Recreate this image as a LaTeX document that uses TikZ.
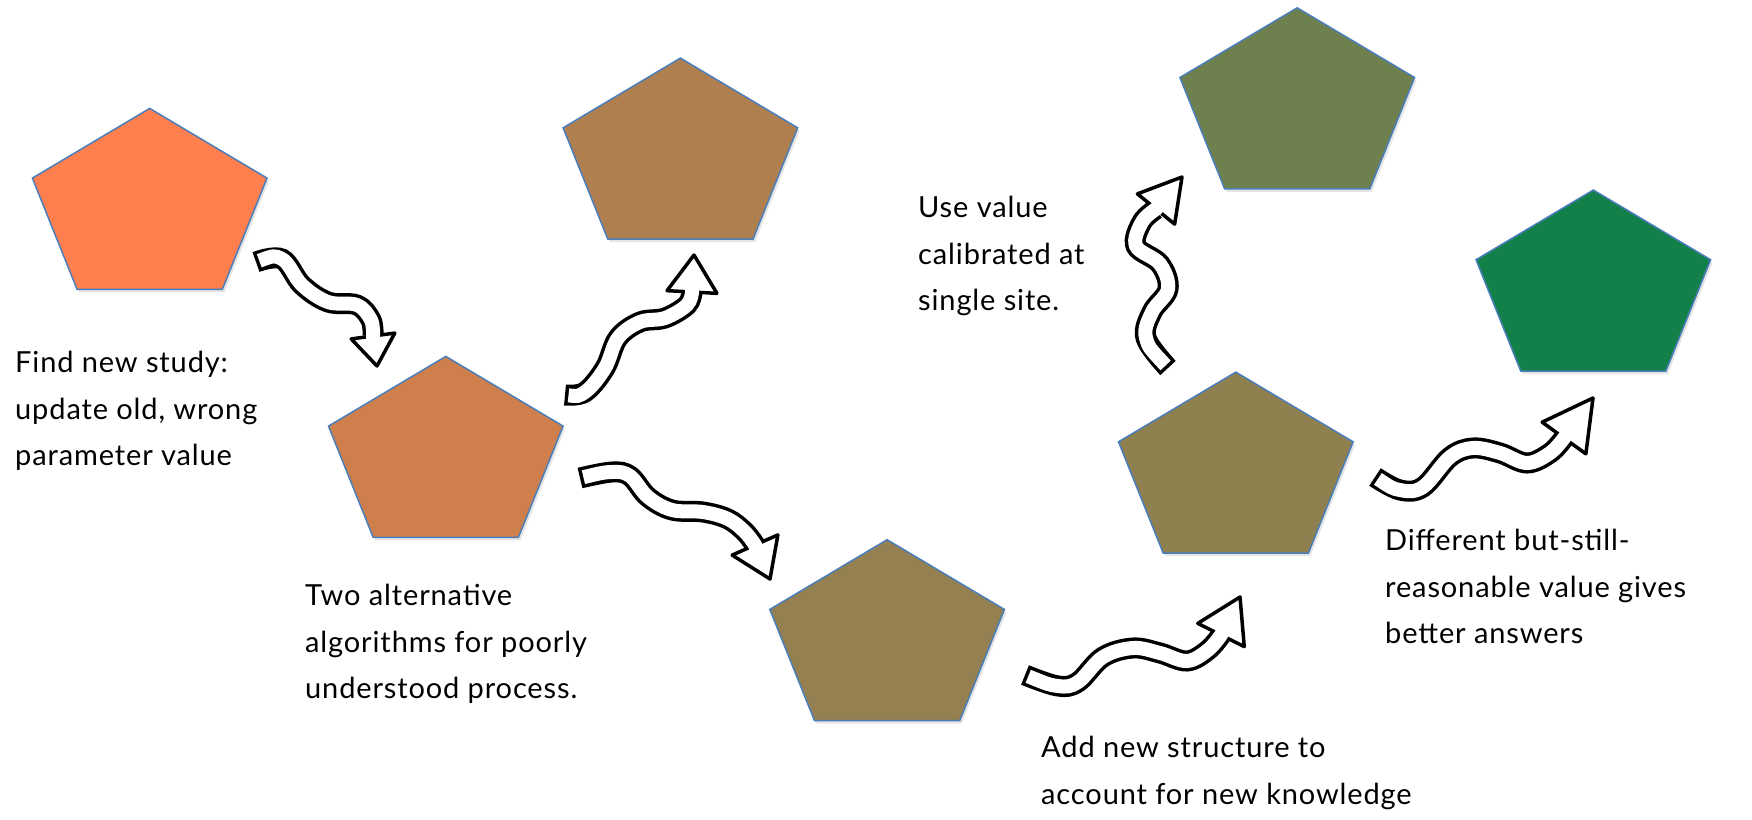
\documentclass[tikz,border=0pt]{standalone}
\usepackage{fontspec}
\setmainfont{Lato}[LetterSpace=3]
\usetikzlibrary{calc}

\definecolor{outlineblue}{RGB}{74,126,187}
\definecolor{stepA}{RGB}{255,127,79}
\definecolor{stepB}{RGB}{176,127,80}
\definecolor{stepC}{RGB}{207,127,75}
\definecolor{stepD}{RGB}{148,128,80}
\definecolor{stepE}{RGB}{111,128,79}
\definecolor{stepF}{RGB}{143,128,79}
\definecolor{stepG}{RGB}{19,128,74}

\tikzset{
  pentshape/.style={draw=outlineblue, line width=1.5pt, line join=miter},
  pentshadow/.style={fill=black, opacity=0.10},
  label/.style={anchor=north west, inner sep=0pt, align=left,
    font=\fontsize{29}{46.5}\selectfont},
  shaftouter/.style={line width=21pt, black},
  shaftinner/.style={line width=14pt, white},
  headshape/.style={fill=white, draw=black, line width=3.5pt, line join=round},
}

% pentagon with its apex at (#2,#3); coordinate #1 marks the apex
\newcommand{\pentagon}[4]{%
  \coordinate (#1) at (#2,#3);
  \fill[pentshadow] ($(#1)+(2,3)$) -- ++(117.3,69.7) -- ++(-44.7,111.3)
     -- ++(-145.2,0) -- ++(-44.7,-111.3) -- cycle;
  \filldraw[pentshape, fill=#4] (#1) -- ++(117.3,69.7) -- ++(-44.7,111.3)
     -- ++(-145.2,0) -- ++(-44.7,-111.3) -- cycle;
}

% hand-drawn style wavy block arrow:
% #1 shaft points (ending at the head base), #2 base, #3 tip, #4 head half-width
\newcommand{\wavyarrow}[4]{%
  \draw[shaftouter] plot[smooth, tension=0.6] coordinates {#1};
  \draw[headshape] (#3) -- ($(#2)!#4pt!90:(#3)$) -- ($(#2)!#4pt!-90:(#3)$) -- cycle;
  \draw[shaftinner, shorten <=3.5pt] plot[smooth, tension=0.6] coordinates {#1}
     -- ($(#2)!7pt!(#3)$);
}

\begin{document}
\begin{tikzpicture}[x=1pt, y=-1pt]
\useasboundingbox (0,0) rectangle (1752,819);

% the seven stages
\pentagon{p1}{149.7}{108.4}{stepA}
\pentagon{p2}{680.4}{58.1}{stepB}
\pentagon{p3}{445.8}{356.4}{stepC}
\pentagon{p4}{887.1}{539.7}{stepD}
\pentagon{p5}{1297.2}{7.8}{stepE}
\pentagon{p6}{1235.8}{372.1}{stepF}
\pentagon{p7}{1593.3}{190.0}{stepG}

% arrow head bases and tips
\coordinate (b1) at (373,336);  \coordinate (t1) at (377,366);
\coordinate (b2) at (692,292);  \coordinate (t2) at (694,255);
\coordinate (b3) at (755,545);  \coordinate (t3) at (770,579);
\coordinate (b4) at (1221,635); \coordinate (t4) at (1240,597);
\coordinate (b5) at (1156,209); \coordinate (t5) at (1182,177);
\coordinate (b6) at (1564,438); \coordinate (t6) at (1593,398);

\wavyarrow{(256,262) (282,259) (302,285) (328,302) (357,305) (371,320) (b1)}{b1}{t1}{22}
\wavyarrow{(565,395) (585,392) (605,368) (618,338) (640,322) (665,318) (687,305) (b2)}{b2}{t2}{25}
\wavyarrow{(580,478) (612,472) (630,476) (648,497) (672,510) (703,512) (728,519) (745,532) (b3)}{b3}{t3}{25}
\wavyarrow{(1025,675) (1058,686) (1078,682) (1103,657) (1133,648) (1160,653) (1187,661) (1208,650) (b4)}{b4}{t4}{26}
\wavyarrow{(1168,368) (1146,338) (1152,312) (1168,289) (1160,264) (1136,246) (1142,222) (b5)}{b5}{t5}{24}
\wavyarrow{(1375,477) (1400,490) (1423,487) (1450,457) (1473,448) (1500,453) (1527,463) (1550,453) (b6)}{b6}{t6}{27}

% captions
\node[label] (l1) at (15,351) {Find new study:\\update old, wrong\\parameter value};
\node[label] (l2) at (305,584) {Two alternative\\algorithms for poorly\\understood process.};
\node[label] (l3) at (918,196) {Use value\\calibrated at\\single site.};
\node[label] (l4) at (1041,736) {Add new structure to\\account for new knowledge};
\node[label] (l5) at (1385,529) {Different but-still-\\reasonable value gives\\better answers};
\end{tikzpicture}
\end{document}
